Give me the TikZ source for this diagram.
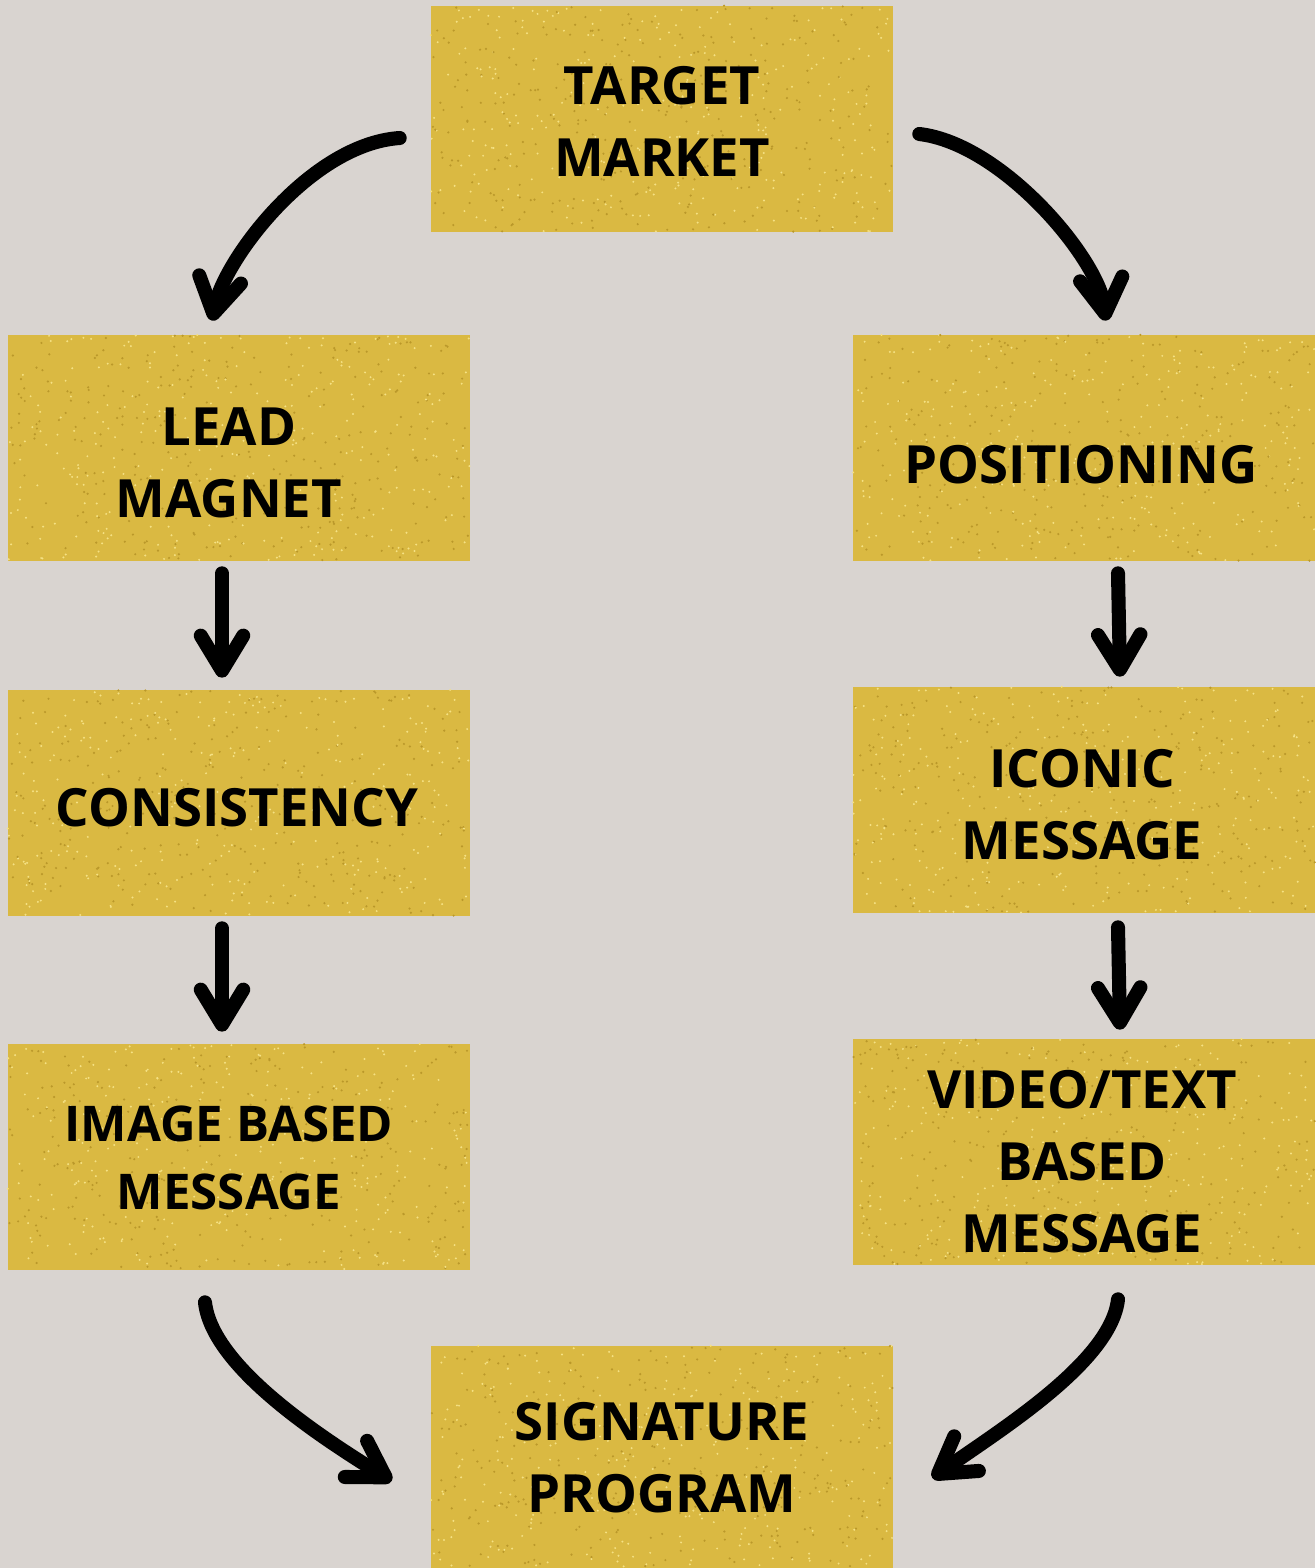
\documentclass[tikz,border=0pt]{standalone}
\usepackage{fontspec}
\setmainfont{Open Sans}
\usetikzlibrary{arrows.meta,calc}
\definecolor{paper}{RGB}{217,212,208}
\definecolor{gold}{RGB}{218,185,66}
\definecolor{goldlight}{RGB}{245,225,132}
\definecolor{golddark}{RGB}{186,152,42}
% speckles of the gold texture inside a box
\newcommand{\glitter}[1]{%
	\foreach \k in {1,...,300} {
		\fill[goldlight] ($(#1.north west)+(rnd*462,rnd*226)$) circle (1.1);
		\fill[golddark] ($(#1.north west)+(rnd*462,rnd*226)$) circle (1.2);
	}}

\begin{document}
\begin{tikzpicture}[x=0.02cm,y=-0.02cm,
		stepbox/.style={fill=gold, minimum width=9.24cm, minimum height=4.52cm, inner sep=0pt},
		steptext/.style={align=center, font=\bfseries\fontsize{30}{41}\selectfont},
		flow/.style={line width=8pt, line cap=round, line join=round,
			-{Straight Barb[length=7mm,width=8.5mm,round]}}]
		\fill[paper] (0,0) rectangle (1315,1568);
		\useasboundingbox (0,0) rectangle (1315,1568);
		\pgfmathsetseed{7}
		\node[stepbox] (target) at (662,119) {};
		\node[stepbox] (lead) at (239,448) {};
		\node[stepbox] (pos) at (1084,448) {};
		\node[stepbox] (cons) at (239,803) {};
		\node[stepbox] (iconic) at (1084,800) {};
		\node[stepbox] (image) at (239,1157) {};
		\node[stepbox] (video) at (1084,1152) {};
		\node[stepbox] (sig) at (662,1459) {};
		\foreach \b in {target,lead,pos,cons,iconic,image,video,sig} {\glitter{\b}}
		% texts
		\node[steptext] at ([shift={(0,2)}]target) {TARGET\\MARKET};
		\node[steptext] at ([shift={(-10,15)}]lead) {LEAD\\MAGNET};
		\node[steptext] at ([shift={(-3,17)}]pos) {POSITIONING};
		\node[steptext] at ([shift={(-2,5)}]cons) {CONSISTENCY};
		\node[steptext] at ([shift={(-2,5)}]iconic) {ICONIC\\MESSAGE};
		\node[steptext, font=\bfseries\fontsize{28}{38.5}\selectfont] at ([shift={(-10,1)}]image) {IMAGE BASED\\MESSAGE};
		\node[steptext] at ([shift={(-2,10)}]video) {VIDEO/TEXT\\BASED\\MESSAGE};
		\node[steptext] at ([shift={(0,-1)}]sig) {SIGNATURE\\PROGRAM};
		% top curves
		\draw[flow] ([shift={(-31,19)}]target.west) .. controls ([shift={(-120,25)}]target.west) and ([shift={(-15,-75)}]lead.north) .. ([shift={(-27,-14)}]lead.north);
		\draw[flow] ([shift={(26,15)}]target.east) .. controls ([shift={(110,25)}]target.east) and ([shift={(15,-75)}]pos.north) .. ([shift={(22,-14)}]pos.north);
		% straight steps
		\draw[flow] ([shift={(-17,12)}]lead.south) -- ([shift={(-17,-12)}]cons.north);
		\draw[flow] ([shift={(-17,12)}]cons.south) -- ([shift={(-17,-12)}]image.north);
		\draw[flow] ([shift={(34,12)}]pos.south) -- ([shift={(36,-10)}]iconic.north);
		\draw[flow] ([shift={(34,14)}]iconic.south) -- ([shift={(36,-9)}]video.north);
		% bottom curves
		\draw[flow] ([shift={(-34,32)}]image.south) .. controls ([shift={(-27,95)}]image.south) and ([shift={(-115,-25)}]sig.west) .. ([shift={(-39,22)}]sig.west);
		\draw[flow] ([shift={(34,34)}]video.south) .. controls ([shift={(27,97)}]video.south) and ([shift={(105,-28)}]sig.east) .. ([shift={(39,19)}]sig.east);
	\end{tikzpicture}
\end{document}
